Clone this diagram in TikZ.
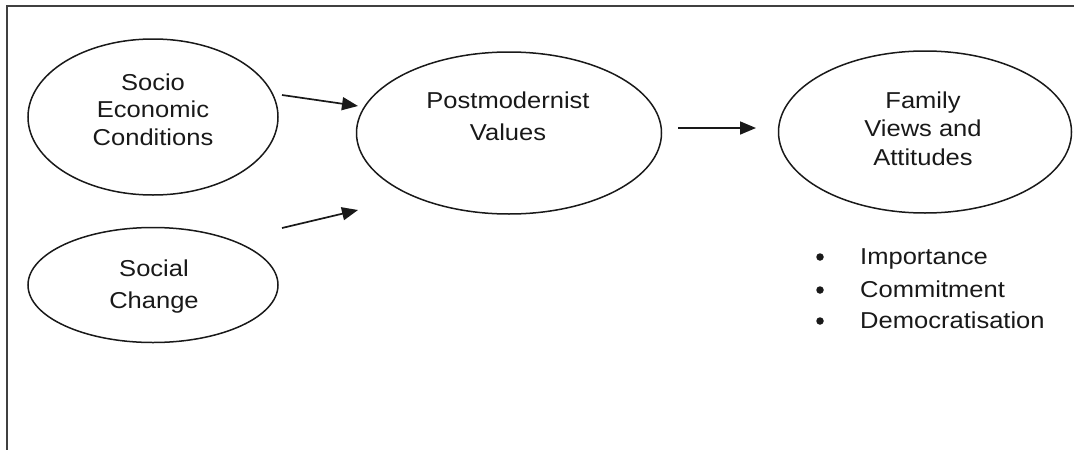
\documentclass[tikz,border=0pt]{standalone}
\usepackage{fontspec}
\setmainfont{Liberation Sans}[FakeStretch=1.11]
\usetikzlibrary{shapes.geometric,arrows.meta}
\begin{document}
\begin{tikzpicture}[x=1pt,y=-1pt,
  oval/.style={ellipse, draw=black!90, line width=1.5pt, inner sep=0pt},
  lbl/.style={align=center, text=black!90, inner sep=0pt},
  flow/.style={line width=1.7pt, draw=black!90, -{Triangle[length=16pt,width=13pt]}},
  dot/.style={circle, fill=black!90, inner sep=0pt, minimum size=7.5pt},
  item/.style={anchor=base west, text=black!90, font=\fontsize{23}{28}\selectfont, inner sep=0pt}]
\useasboundingbox (0,0) rectangle (1074,450);
% open frame: top and left edges only
\draw[line width=2.2pt, draw=black!75] (1074,6) -- (7,6) -- (7,450);

% ovals
\node[oval, minimum width=250pt, minimum height=156pt] (soc) at (153,117) {};
\node[oval, minimum width=250pt, minimum height=115pt] (chg) at (153,285) {};
\node[oval, minimum width=305pt, minimum height=162pt] (pm) at (509,133) {};
\node[oval, minimum width=293pt, minimum height=162pt] (fam) at (925,132) {};

% oval texts
\node[lbl, font=\fontsize{23}{27.5}\selectfont] (socT) at (153,109.5) {Socio\\Economic\\Conditions};
\node[lbl, font=\fontsize{23}{32}\selectfont] (pmT) at (508,116) {Postmodernist\\Values};
\node[lbl, font=\fontsize{23}{28.5}\selectfont] (famT) at (923,128.5) {Family\\Views and\\Attitudes};
\node[lbl, font=\fontsize{23}{32}\selectfont] (chgT) at (154,286.5) {Social\\Change};

% arrows
\coordinate (a1s) at (282,95);  \coordinate (a1e) at (358,106);
\coordinate (a2s) at (282,228); \coordinate (a2e) at (358,210);
\coordinate (a3s) at (678,128); \coordinate (a3e) at (756,128);
\draw[flow] (a1s) -- (a1e);
\draw[flow] (a2s) -- (a2e);
\draw[flow] (a3s) -- (a3e);

% bullet list
\node[dot] (b1) at (820,257) {};
\node[item] (i1) at (860,264) {Importance};
\node[dot] (b2) at (820,290) {};
\node[item] (i2) at (860,297) {Commitment};
\node[dot] (b3) at (820,321) {};
\node[item] (i3) at (860,328) {Democratisation};
\end{tikzpicture}
\end{document}
